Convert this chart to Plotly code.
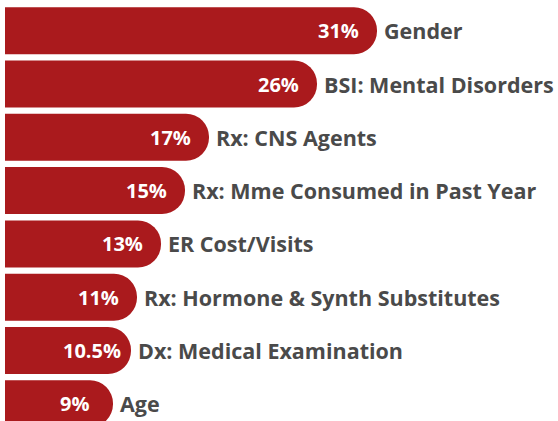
import plotly.graph_objects as go

categories = ["Gender", "BSI: Mental Disorders", "Rx: CNS Agents",
              "Rx: Mme Consumed in Past Year", "ER Cost/Visits",
              "Rx: Hormone & Synth Substitutes", "Dx: Medical Examination", "Age"]
values = [31, 26, 17, 15, 13, 11, 10.5, 9]
value_labels = ["31%", "26%", "17%", "15%", "13%", "11%", "10.5%", "9%"]

BAR = "#AA1A1D"
TXT = "#4A4A4A"
FONT = "Open Sans"

fig = go.Figure()
fig.add_trace(go.Bar(
    x=values, y=categories, orientation="h",
    marker=dict(color=BAR, line=dict(width=0), cornerradius=24),
    hoverinfo="skip",
))

for c, v, lab in zip(categories, values, value_labels):
    fig.add_annotation(x=v, y=c, xref="x", yref="y", text=f"<b>{lab}</b>",
                       showarrow=False, xanchor="center", xshift=-39,
                       font=dict(family=FONT, size=20, color="white"))
    fig.add_annotation(x=v, y=c, xref="x", yref="y", text=f"<b>{c}</b>",
                       showarrow=False, xanchor="left", xshift=5,
                       font=dict(family=FONT, size=21.5, color=TXT))

fig.update_layout(
    width=558, height=421,
    margin=dict(l=5, r=0, t=0, b=0),
    paper_bgcolor="white", plot_bgcolor="white",
    bargap=0.118, showlegend=False,
    xaxis=dict(range=[0, 553 / 12], visible=False, fixedrange=True),
    yaxis=dict(type="category", categoryarray=categories,
               range=[7.323, -0.576], visible=False, fixedrange=True),
)

fig.write_html("out.html", config={"displayModeBar": False},
               post_script="document.body.style.margin='0';")
